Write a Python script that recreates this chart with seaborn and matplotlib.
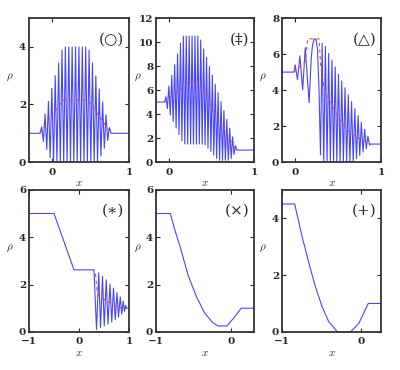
import matplotlib
matplotlib.use("Agg")
import matplotlib.pyplot as plt
import seaborn as sns

# === Data (density profiles rho(x)) ===
# (o) panel
p1_x = [-0.3, -0.157, -0.135, -0.113, -0.091, -0.069, -0.047, -0.025, -0.003, 0.019, 0.041,
        0.063, 0.085, 0.107, 0.129, 0.151, 0.173, 0.195, 0.217, 0.239, 0.261, 0.283, 0.305,
        0.327, 0.349, 0.371, 0.393, 0.415, 0.437, 0.459, 0.481, 0.503, 0.525, 0.547, 0.569,
        0.591, 0.613, 0.635, 0.657, 0.679, 0.701, 0.723, 0.745, 0.767, 1.0]
p1_rho = [1.0, 1.0, 1.22, 0.72, 1.67, 0.44, 2.11, 0.16, 2.56, 0.0, 3.0,
          0.0, 3.44, 0.0, 3.89, 0.0, 4.0, 0.0, 4.0, 0.0, 4.0, 0.0, 4.0,
          0.0, 4.0, 0.0, 4.0, 0.0, 4.0, 0.0, 3.89, 0.0, 3.44, 0.0, 2.99,
          0.0, 2.54, 0.21, 2.09, 0.48, 1.64, 0.75, 1.2, 1.0, 1.0]
p1_mean_x = [-0.157, 0.14, 0.47, 0.765]
p1_mean_rho = [1.0, 2.15, 2.15, 1.0]

# (double dagger) panel
p2_x = [-0.15, -0.050, -0.033, -0.016, 0.001, 0.018, 0.035, 0.052, 0.069, 0.086, 0.103,
        0.120, 0.137, 0.154, 0.171, 0.188, 0.205, 0.222, 0.239, 0.256, 0.273, 0.290,
        0.307, 0.324, 0.341, 0.358, 0.375, 0.392, 0.409, 0.426, 0.443, 0.460, 0.477,
        0.494, 0.511, 0.528, 0.545, 0.562, 0.579, 0.596, 0.613, 0.630, 0.647, 0.664,
        0.681, 0.698, 0.715, 0.732, 0.749, 0.766, 0.783, 0.800, 1.0]
p2_rho = [5.0, 5.0, 5.45, 4.46, 6.34, 3.92, 7.23, 3.38, 8.12, 2.84, 9.01,
          2.30, 9.90, 1.76, 10.5, 1.5, 10.5, 1.5, 10.5, 1.5, 10.5, 1.5,
          10.5, 1.5, 10.5, 1.5, 10.18, 1.5, 9.44, 1.45, 8.71, 1.16, 7.97,
          0.88, 7.24, 0.59, 6.50, 0.30, 5.77, 0.15, 5.04, 0.15, 4.30, 0.15,
          3.57, 0.15, 2.83, 0.28, 2.10, 0.64, 1.36, 1.0, 1.0]
p2_mean_x = [-0.05, 0.25, 0.33, 0.79]
p2_mean_rho = [5.0, 6.75, 6.75, 1.0]

# (triangle) panel
p3_x = [-0.15, -0.01, 0.003, 0.03, 0.058, 0.09, 0.12, 0.165, 0.19, 0.205,
        0.225, 0.245, 0.262, 0.28, 0.297, 0.316, 0.335, 0.354, 0.373, 0.392,
        0.411, 0.430, 0.449, 0.468, 0.487, 0.506, 0.525, 0.544, 0.563, 0.582,
        0.601, 0.620, 0.639, 0.658, 0.677, 0.696, 0.715, 0.734, 0.753, 0.772,
        0.791, 0.810, 0.829, 0.848, 0.867, 0.88, 1.0]
p3_rho = [5.0, 5.0, 5.4, 4.58, 5.9, 4.02, 6.35, 3.3, 5.8, 6.5,
          6.85, 6.8, 6.3, 4.0, 0.4, 6.6, 0.0, 6.43, 0.0, 6.04,
          0.0, 5.66, 0.0, 5.28, 0.0, 4.89, 0.0, 4.51, 0.0, 4.13,
          0.0, 3.74, 0.0, 3.36, 0.0, 2.97, 0.18, 2.59, 0.37, 2.21,
          0.56, 1.82, 0.75, 1.44, 0.94, 1.0, 1.0]
p3_mean_x = [-0.01, 0.12, 0.15, 0.28, 0.30, 0.345, 0.49, 0.64, 0.79, 0.88]
p3_mean_rho = [5.0, 5.6, 6.85, 6.85, 5.3, 4.0, 2.6, 1.6, 1.2, 1.0]

# (*) panel
p4_x = [-1.0, -0.5, -0.1, 0.3, 0.35, 0.395, 0.43, 0.47, 0.505, 0.545, 0.58, 0.62,
        0.655, 0.69, 0.725, 0.76, 0.79, 0.825, 0.855, 0.885, 0.91, 0.935, 0.95, 1.0]
p4_rho = [5.0, 5.0, 2.62, 2.62, 0.1, 2.5, 0.18, 2.35, 0.25, 2.2, 0.33, 2.02,
          0.42, 1.85, 0.52, 1.66, 0.63, 1.48, 0.75, 1.3, 0.87, 1.12, 1.0, 1.0]
p4_mean_x = [0.33, 0.345, 0.36, 0.40, 0.52, 0.68, 0.85]
p4_mean_rho = [2.45, 2.1, 1.75, 1.5, 1.35, 1.15, 1.0]

# (x) panel
p5_x = [-1.0, -0.81, -0.75, -0.68, -0.575, -0.465, -0.355, -0.25, -0.18, -0.06, 0.035, 0.13, 0.3]
p5_rho = [5.0, 5.0, 4.3, 3.6, 2.4, 1.5, 0.8, 0.4, 0.25, 0.25, 0.6, 1.0, 1.0]

# (+) panel
p6_x = [-1.0, -0.84, -0.747, -0.66, -0.58, -0.494, -0.41, -0.3, -0.135, -0.03, 0.089, 0.25]
p6_rho = [4.5, 4.5, 3.36, 2.42, 1.6, 0.89, 0.36, 0.0, 0.0, 0.3, 1.0, 1.0]

labels = ["(\u25cb)", "(\u2021)", "(\u25b3)", "(\u2217)", "(\u00d7)", "(+)"]
xlims = [(-0.3, 1), (-0.15, 1), (-0.15, 1), (-1, 1), (-1, 0.3), (-1, 0.25)]
ylims = [(0, 5), (0, 12), (0, 8), (0, 6), (0, 6), (0, 5)]
xticks = [[0, 1], [0, 1], [0, 1], [-1, 0, 1], [-1, 0], [-1, 0]]
yticks = [[0, 2, 4], [0, 2, 4, 6, 8, 10, 12], [0, 2, 4, 6, 8], [0, 2, 4, 6], [0, 2, 4, 6], [0, 2, 4]]

curves = [(p1_x, p1_rho), (p2_x, p2_rho), (p3_x, p3_rho), (p4_x, p4_rho), (p5_x, p5_rho), (p6_x, p6_rho)]
means = [(p1_mean_x, p1_mean_rho), (p2_mean_x, p2_mean_rho), (p3_mean_x, p3_mean_rho),
         (p4_mean_x, p4_mean_rho), None, None]

BLUE = "#4646ff"
RED = "#e04a4a"

sns.set_theme(style="ticks")
plt.rcParams["font.family"] = ["DejaVu Serif", "DejaVu Sans"]
plt.rcParams["mathtext.fontset"] = "cm"

fig = plt.figure(figsize=(4.0, 3.7), dpi=100)

# axes rectangles (left, bottom, width, height)
rects = [
    (0.0725, 0.562, 0.25, 0.389), (0.39, 0.562, 0.245, 0.389), (0.705, 0.562, 0.2475, 0.389),
    (0.0725, 0.103, 0.25, 0.384), (0.39, 0.103, 0.245, 0.384), (0.705, 0.103, 0.2475, 0.384),
]

for i, rect in enumerate(rects):
    ax = fig.add_axes(rect)
    cx, cy = curves[i]
    sns.lineplot(x=cx, y=cy, ax=ax, sort=False, estimator=None, color=BLUE, lw=0.8)
    if means[i] is not None:
        mx, my = means[i]
        sns.lineplot(x=mx, y=my, ax=ax, sort=False, estimator=None, color=RED, lw=0.8,
                     dashes=False, linestyle=(0, (3, 3)))

    ax.set_xlim(*xlims[i])
    ax.set_ylim(*ylims[i])
    ax.set_xticks(xticks[i])
    ax.set_yticks(yticks[i])
    ax.tick_params(direction="in", top=True, right=True, length=3, width=0.8,
                   labelsize=7.5)
    ax.tick_params(axis="x", pad=4)
    ax.tick_params(axis="y", pad=2)
    for lab in ax.get_xticklabels() + ax.get_yticklabels():
        lab.set_fontweight("bold")
    for sp in ax.spines.values():
        sp.set_linewidth(1.3)
        sp.set_color("#333333")
    ax.set_xlabel(r"$x$", fontsize=8, labelpad=1)
    ax.set_ylabel(r"$\rho$", fontsize=8, rotation=0)
    ax.yaxis.set_label_coords(-0.19, 0.55)
    ax.text(0.95, 0.85, labels[i], transform=ax.transAxes, ha="right", va="center",
            fontsize=11, family=["DejaVu Serif", "DejaVu Sans"])

plt.savefig("out.png", dpi=100)
